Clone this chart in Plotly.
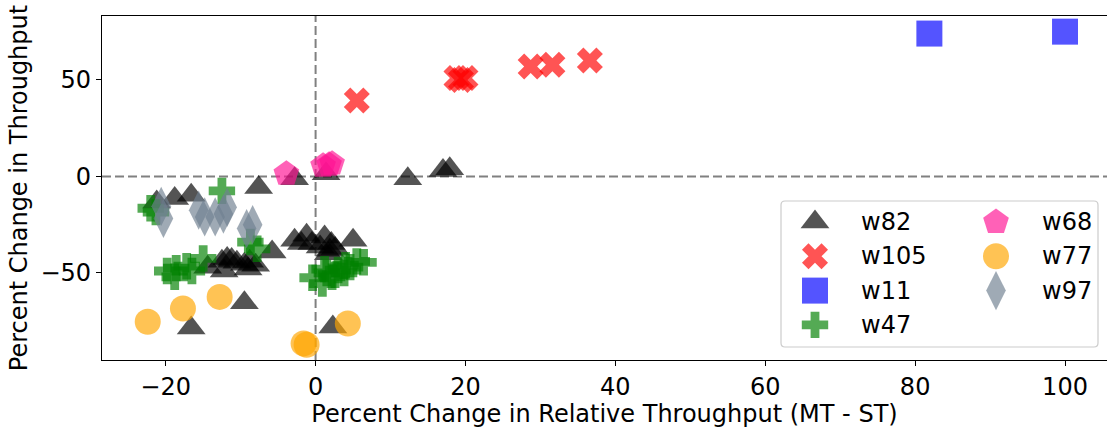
import plotly.graph_objects as go

# ---- data: percent change in relative throughput (x) vs percent change in throughput (y)
w82_x = [-21.2, -18.8, -16.6, -7.6, -2.8, 1.4, 12.3, 17.0, 17.9,
         -14.4, -12.5, -11.8, -11.2, -10.5, -9.5, -8.8, -8.0, -12.2, -9.0,
         -5.8, -9.5, -16.6, 2.3,
         -2.8, -1.2, -1.9, -0.5, 1.2, 0.6, 2.1, 1.9, 1.7, 2.6, 5.0]
w82_y = [-13.3, -11.5, -9.8, -5.8, -1.2, 1.4, -1.2, 3.1, 4.0,
         -47.0, -44.0, -42.5, -43.0, -44.5, -45.5, -44.0, -46.0, -49.0, -48.0,
         -39.1, -65.5, -78.5, -78.0,
         -33.1, -30.5, -34.8, -34.8, -31.4, -36.5, -34.8, -38.3, -40.0, -37.4, -33.1]

w105_x = [5.5, 18.8, 19.4, 20.0, 28.7, 31.6, 36.6]
w105_y = [39.3, 51.0, 50.0, 51.0, 56.9, 57.9, 60.0]

w11_x = [81.9, 100.0]
w11_y = [74.0, 75.0]

w47_x = [-22.0, -21.3, -12.5, -8.7, -7.8,
         -19.8, -18.8, -18.6, -17.2, -16.5, -15.0,
         -0.4, 0.9, 1.2, 1.5, 2.2, 2.6, 3.0, 3.8, 4.0, 4.6, 5.5, 6.4]
w47_y = [-16.5, -18.5, -7.5, -34.0, -37.5,
         -49.0, -52.0, -47.5, -46.5, -49.0, -42.5,
         -52.5, -55.5, -48.0, -50.0, -52.0, -51.0, -48.5, -50.0, -46.0, -47.0, -44.0, -44.5]

w68_x = [-3.9, 1.0, 1.8, 2.2]
w68_y = [1.4, 5.5, 6.0, 6.6]

w77_x = [-22.4, -17.7, -12.8, -1.6, -1.2, 4.3]
w77_y = [-75.3, -68.4, -62.4, -86.5, -87.2, -76.2]

w97_x = [-20.6, -20.3, -15.6, -14.8, -13.4, -12.3, -11.8, -9.2, -8.4]
w97_y = [-15.5, -21.8, -17.5, -21.0, -21.0, -19.5, -16.0, -27.0, -25.0]

series_names = ["w82", "w105", "w11", "w47", "w68", "w77", "w97"]
series_x = [w82_x, w105_x, w11_x, w47_x, w68_x, w77_x, w97_x]
series_y = [w82_y, w105_y, w11_y, w47_y, w68_y, w77_y, w97_y]

x_ticks = [-20, 0, 20, 40, 60, 80, 100]
y_ticks = [-50, 0, 50]

# ---- styling
ALPHA = 0.67
styles = {
    "w82": dict(symbol="triangle-up", size=25, rgb=(0, 0, 0)),
    "w105": dict(symbol="x", size=23, rgb=(255, 0, 0)),
    "w11": dict(symbol="square", size=26, rgb=(0, 0, 255)),
    "w47": dict(symbol="cross", size=22, rgb=(0, 128, 0)),
    "w68": dict(symbol="pentagon", size=27, rgb=(255, 20, 147)),
    "w77": dict(symbol="circle", size=26, rgb=(255, 165, 0)),
    "w97": dict(symbol="diamond-tall", size=28, rgb=(112, 128, 144)),
}


def rgba(rgb, a):
    return "rgba(%d,%d,%d,%.2f)" % (rgb[0], rgb[1], rgb[2], a)


FONT = "DejaVu Sans"
FS = 24
W, H = 1107, 428
ML, MR, MT, MB = 102, 0, 16, 68

fig = go.Figure()

for name, xs, ys in zip(series_names, series_x, series_y):
    st = styles[name]
    fig.add_trace(go.Scatter(
        x=xs, y=ys, mode="markers", name=name, showlegend=False,
        marker=dict(symbol=st["symbol"], size=st["size"],
                    color=rgba(st["rgb"], ALPHA), line=dict(width=0)),
        hoverinfo="x+y+name",
    ))

# reference lines through the origin
dash_style = dict(color="rgb(128,128,128)", width=2, dash="9px,4px")
fig.add_hline(y=0, line=dash_style, layer="below")
fig.add_vline(x=0, line=dash_style, layer="below")

# ---- two-column legend drawn on a pixel-scaled overlay axis
LEG_X0, LEG_Y0 = 815, 222       # first swatch centre (pixels)
LEG_DX, LEG_DY = 181, 34.3      # column / row spacing
LEG_TXT = 44                    # swatch centre to label start
for i, name in enumerate(series_names):
    col, row = divmod(i, 4)
    st = styles[name]
    lx = LEG_X0 + col * LEG_DX
    ly = LEG_Y0 + row * LEG_DY
    fig.add_trace(go.Scatter(
        x=[lx], y=[ly], xaxis="x2", yaxis="y2", mode="markers",
        showlegend=False, hoverinfo="skip",
        marker=dict(symbol=st["symbol"], size=st["size"],
                    color=rgba(st["rgb"], ALPHA), line=dict(width=0)),
    ))
    fig.add_annotation(x=lx + LEG_TXT, y=ly, xref="x2", yref="y2", text=name,
                       showarrow=False, xanchor="left", yanchor="middle",
                       font=dict(family=FONT, size=FS, color="black"))

# legend frame with rounded corners
bx0, by0, bx1, by1, r = 781, 201, 1098, 347, 4
frame = (f"M{bx0 + r},{by0} L{bx1 - r},{by0} Q{bx1},{by0} {bx1},{by0 + r} "
         f"L{bx1},{by1 - r} Q{bx1},{by1} {bx1 - r},{by1} "
         f"L{bx0 + r},{by1} Q{bx0},{by1} {bx0},{by1 - r} "
         f"L{bx0},{by0 + r} Q{bx0},{by0} {bx0 + r},{by0} Z")
fig.add_shape(type="path", path=frame, xref="x2", yref="y2",
              line=dict(color="rgb(204,204,204)", width=1.2),
              fillcolor="rgba(0,0,0,0)", layer="above")

axis_font = dict(family=FONT, size=FS, color="black")

fig.update_layout(
    width=W, height=H,
    margin=dict(l=ML, r=MR, t=MT, b=MB, pad=0),
    paper_bgcolor="white", plot_bgcolor="white",
    font=dict(family=FONT, size=FS, color="black"),
    showlegend=False,
    xaxis=dict(
        range=[-28.5, 105.6], tickmode="array", tickvals=x_ticks,
        ticks="outside", ticklen=5, tickwidth=1, tickcolor="black",
        showline=True, linecolor="black", linewidth=1.2, mirror=True,
        showgrid=False, zeroline=False, tickfont=axis_font,
        title=dict(text="Percent Change in Relative Throughput (MT - ST)",
                   font=axis_font, standoff=4),
    ),
    yaxis=dict(
        range=[-95.1, 83.1], tickmode="array", tickvals=y_ticks,
        ticks="outside", ticklen=5, tickwidth=1, tickcolor="black",
        showline=True, linecolor="black", linewidth=1.2, mirror=False,
        showgrid=False, zeroline=False, tickfont=axis_font,
        title=dict(text="Percent Change in Throughput", font=axis_font, standoff=6),
    ),
    xaxis2=dict(overlaying="x", anchor="y2", range=[ML, W - MR], visible=False,
                fixedrange=True),
    yaxis2=dict(overlaying="y", anchor="x2", range=[H - MB, MT], visible=False,
                fixedrange=True),
)

fig.write_html("out.html")
